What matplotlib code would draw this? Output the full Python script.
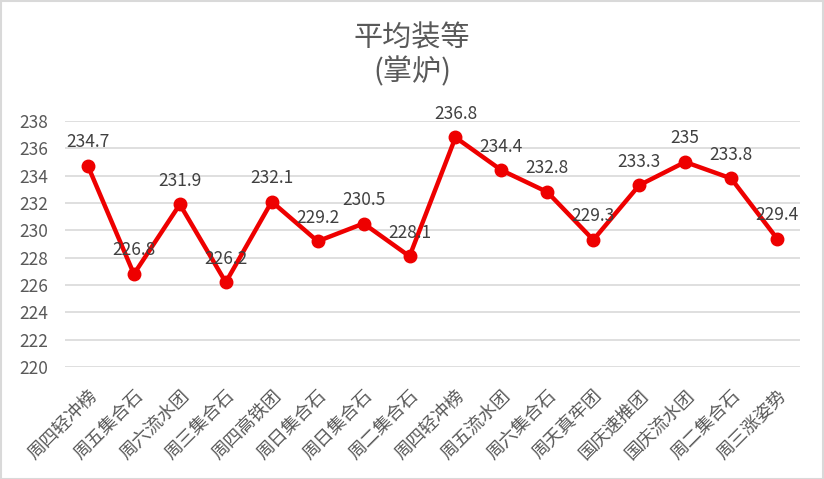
import matplotlib
matplotlib.use("Agg")
import matplotlib.pyplot as plt
from matplotlib.patches import Rectangle

plt.rcParams['font.family'] = ['Noto Sans CJK SC', 'DejaVu Sans']

categories = ["周四轻冲榜", "周五集合石", "周六流水团", "周三集合石", "周四高铁团", "周日集合石",
              "周日集合石", "周二集合石", "周四轻冲榜", "周五流水团", "周六集合石", "周天真牢团",
              "国庆速推团", "国庆流水团", "周二集合石", "周三涨姿势"]
values = [234.7, 226.8, 231.9, 226.2, 232.1, 229.2, 230.5, 228.1, 236.8, 234.4,
          232.8, 229.3, 233.3, 235, 233.8, 229.4]
value_labels = ["234.7", "226.8", "231.9", "226.2", "232.1", "229.2", "230.5", "228.1", "236.8",
                "234.4", "232.8", "229.3", "233.3", "235", "233.8", "229.4"]
yticks = [220, 222, 224, 226, 228, 230, 232, 234, 236, 238]

fig = plt.figure(figsize=(8.24, 4.79), dpi=100)
fig.patches.append(Rectangle((0.001, 0.001), 0.998, 0.997, transform=fig.transFigure,
                             fill=False, edgecolor='#d9d9d9', linewidth=1.5))
ax = fig.add_axes([65/824, 1-367/479, (800-65)/824, (367-121)/479])

x = list(range(len(categories)))
ax.plot(x, values, color='#ee0000', linewidth=3.2, marker='o', markersize=9, zorder=3)
for xi, v, lab in zip(x, values, value_labels):
    ax.annotate(lab, (xi, v), xytext=(0, 17), textcoords='offset points', ha='center',
                va='center', fontsize=12.5, color='#404040', zorder=4)

ax.set_ylim(220, 238)
ax.set_xlim(-0.5, len(categories) - 0.5)
ax.set_yticks(yticks)
ax.set_yticklabels([str(t) for t in yticks], fontsize=12.5, color='#595959')
ax.set_xticks(x)
ax.set_xticklabels(categories, rotation=45, ha='right', rotation_mode='anchor',
                   fontsize=13, color='#595959')
ax.tick_params(axis='y', length=0, pad=12)
ax.tick_params(axis='x', length=0, pad=14)
ax.grid(axis='y', color='#d9d9d9', linewidth=1.2)
ax.set_axisbelow(True)
for s in ax.spines.values():
    s.set_visible(False)

fig.text(0.5, 1-38/479, "平均装等", ha='center', va='center', fontsize=21, color='#595959')
fig.text(0.5, 1-72/479, "(掌炉)", ha='center', va='center', fontsize=21, color='#595959')

fig.savefig("out.png", dpi=100)
